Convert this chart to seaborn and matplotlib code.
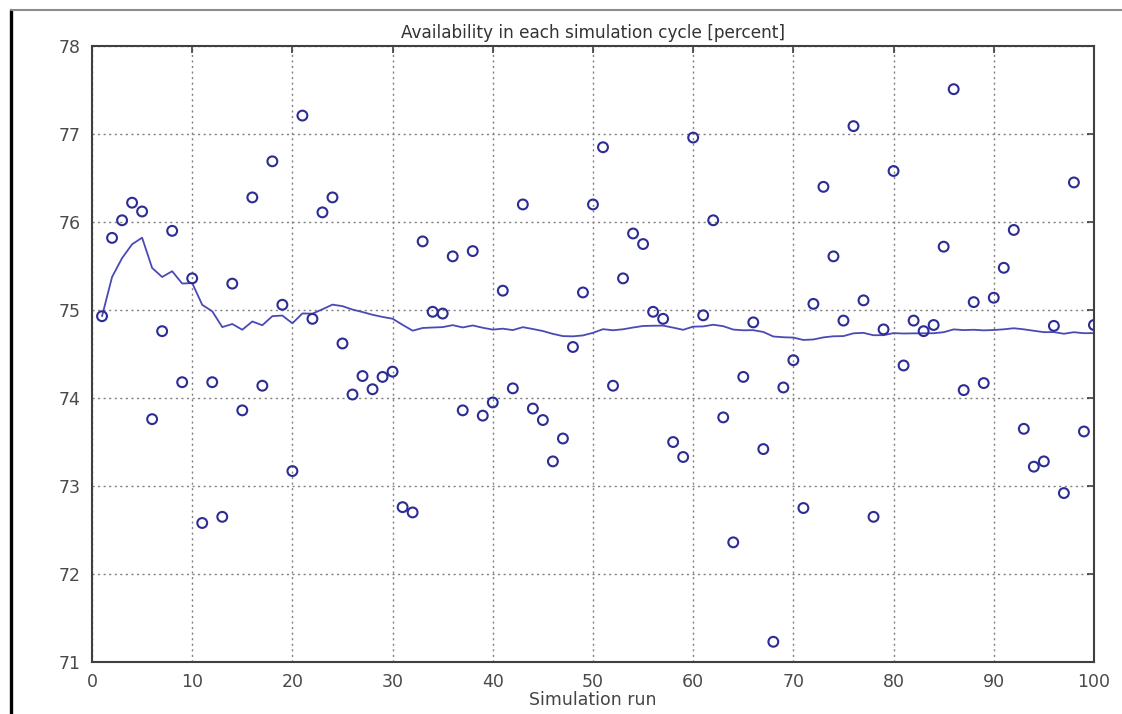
import pandas as pd
import matplotlib
matplotlib.use('Agg')
import matplotlib.pyplot as plt
from matplotlib.lines import Line2D
import seaborn as sns

# availability per simulation run
runs = list(range(1, 101))
availability = [
    74.93, 75.82, 76.02, 76.22, 76.12, 73.76, 74.76, 75.90, 74.18, 75.36,
    72.58, 74.18, 72.65, 75.30, 73.86, 76.28, 74.14, 76.69, 75.06, 73.17,
    77.21, 74.90, 76.11, 76.28, 74.62, 74.04, 74.25, 74.10, 74.24, 74.30,
    72.76, 72.70, 75.78, 74.98, 74.96, 75.61, 73.86, 75.67, 73.80, 73.95,
    75.22, 74.11, 76.20, 73.88, 73.75, 73.28, 73.54, 74.58, 75.20, 76.20,
    76.85, 74.14, 75.36, 75.87, 75.75, 74.98, 74.90, 73.50, 73.33, 76.96,
    74.94, 76.02, 73.78, 72.36, 74.24, 74.86, 73.42, 71.23, 74.12, 74.43,
    72.75, 75.07, 76.40, 75.61, 74.88, 77.09, 75.11, 72.65, 74.78, 76.58,
    74.37, 74.88, 74.76, 74.83, 75.72, 77.51, 74.09, 75.09, 74.17, 75.14,
    75.48, 75.91, 73.65, 73.22, 73.28, 74.82, 72.92, 76.45, 73.62, 74.83,
]
x_ticks = [0, 10, 20, 30, 40, 50, 60, 70, 80, 90, 100]
y_ticks = [71, 72, 73, 74, 75, 76, 77, 78]

data = pd.DataFrame({'run': runs, 'availability': availability})
# running mean over the runs so far
data['running_mean'] = data['availability'].expanding().mean()

sns.set_style('white')
plt.rcParams['font.family'] = ['DejaVu Sans']

fig = plt.figure(figsize=(11.22, 7.14), dpi=100)
ax = fig.add_axes([0.082, 0.0728, 0.893, 0.8627])

sns.lineplot(data=data, x='run', y='running_mean', ax=ax, color='#4a4ab4', linewidth=1.3)
sns.scatterplot(data=data, x='run', y='availability', ax=ax, marker='o', s=50,
                facecolor='none', edgecolor='#2c2c96', linewidth=1.5, zorder=3)

ax.set_xlim(0, 100)
ax.set_ylim(71, 78)
ax.set_xticks(x_ticks)
ax.set_yticks(y_ticks)
ax.grid(True, linestyle=(0, (1.5, 2.5)), color='#808080', linewidth=1.0)
ax.tick_params(direction='in', length=5, width=1.2, color='#404040',
               top=True, right=True, labelsize=12.5, labelcolor='#4a4a4a', pad=8)
for spine in ax.spines.values():
    spine.set_color('#404040')
    spine.set_linewidth(1.5)

ax.set_title('Availability in each simulation cycle [percent]', fontsize=12.2, color='#333333', pad=6)
ax.set_xlabel('Simulation run', fontsize=12.5, color='#444444', labelpad=0)
ax.set_ylabel('')

# window frame of the original screenshot
fig.add_artist(Line2D([0.0098, 0.0098], [0, 0.986], color='black', linewidth=2.4))
fig.add_artist(Line2D([0.0098, 1.0], [0.986, 0.986], color='#8c8c8c', linewidth=1.5))

plt.savefig('out.png', dpi=100)
